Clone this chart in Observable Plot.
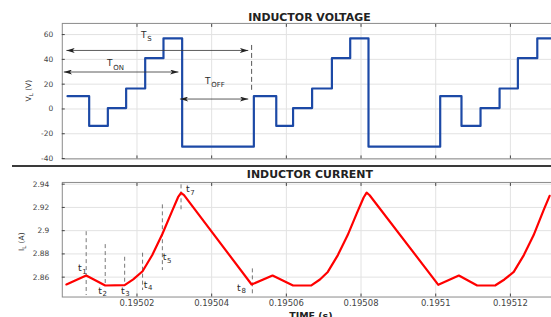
<!DOCTYPE html>
<html><head><meta charset="utf-8">
<script src="https://cdn.jsdelivr.net/npm/d3@7"></script>
<script src="https://cdn.jsdelivr.net/npm/@observablehq/plot@0.6"></script>
<style>
body{margin:0;background:#fff;}
#wrap{width:551px;height:317px;overflow:hidden;position:relative;background:#fff;}
#sep{height:2px;background:#3a3a3a;margin-left:12px;width:545px;}
svg{display:block;}
</style></head><body><div id="wrap"></div>
<script>
const titles = ["INDUCTOR VOLTAGE", "INDUCTOR CURRENT"];
const xLabel = "TIME (s)";
const xTicks = [0.19502, 0.19504, 0.19506, 0.19508, 0.1951, 0.19512];
const xTickLabels = ["0.19502", "0.19504", "0.19506", "0.19508", "0.1951", "0.19512"];
const xDomain = [0.195, 0.195131];
const vTicks = [-40, -20, 0, 20, 40, 60];
const vTickLabels = ["-40", "-20", "0", "20", "40", "60"];
const vDomain = [-40.3, 69];
const iTicks = [2.86, 2.88, 2.9, 2.92, 2.94];
const iTickLabels = ["2.86", "2.88", "2.9", "2.92", "2.94"];
const iDomain = [2.8429, 2.9415];

// inductor voltage (step waveform)
const vTime = [0.1950014, 0.1950072, 0.1950122, 0.1950171, 0.1950222, 0.1950271, 0.1950321,
               0.1950513, 0.1950573, 0.1950618, 0.1950669, 0.1950722, 0.1950771, 0.1950820,
               0.1951012, 0.1951069, 0.1951120, 0.1951171, 0.1951220, 0.1951272, 0.1951320];
const vValue = [10.3, -13.7, 0.7, 16.5, 41, 57, -30.4,
                10.3, -13.7, 0.7, 16.5, 41, 57, -30.4,
                10.3, -13.7, 0.7, 16.5, 41, 57, 57];

// inductor current
const iTime = [0.1950011, 0.1950064, 0.1950115, 0.1950167, 0.1950190, 0.1950215, 0.1950241, 0.1950268,
               0.1950294, 0.1950310, 0.1950318, 0.1950326, 0.1950507,
               0.1950563, 0.1950618, 0.1950667, 0.1950690, 0.1950711, 0.1950738, 0.1950764,
               0.1950790, 0.1950807, 0.1950815, 0.1950823, 0.1951007,
               0.1951062, 0.1951111, 0.1951160, 0.1951184, 0.1951209, 0.1951236, 0.1951262,
               0.1951290, 0.1951305];
const iValue = [2.8537, 2.8614, 2.8528, 2.8532, 2.8581, 2.8651, 2.8791, 2.8971,
                2.9168, 2.9288, 2.9325, 2.9306, 2.8537,
                2.8614, 2.8528, 2.8530, 2.8580, 2.8645, 2.8790, 2.8960,
                2.9160, 2.9285, 2.9327, 2.9305, 2.8534,
                2.8614, 2.8528, 2.8530, 2.8580, 2.8645, 2.8790, 2.8960,
                2.9186, 2.9300];

// annotations, top panel
const arrowX1 = [0.1950011, 0.1950004, 0.1950315];
const arrowX2 = [0.1950498, 0.1950311, 0.1950498];
const arrowV = [47.2, 29.8, 8];
const periodSubs = ["S", "ON", "OFF"];
const periodLabelT = [0.1950211, 0.1950120, 0.1950382];
const periodLabelV = [59.6, 36.6, 22.6];
const tsMarkT = [0.1950507];
const tsMarkV1 = [51.2];
const tsMarkV2 = [13.5];

// annotations, bottom panel
const instSubs = ["1", "2", "3", "4", "5", "7", "8"];
const instT = [0.1950064, 0.1950115, 0.1950167, 0.1950215, 0.1950268, 0.1950318, 0.1950509];
const instI1 = [2.8991, 2.8880, 2.8771, 2.8806, 2.9222, 2.9394, 2.8671];
const instI2 = [2.8442, 2.8528, 2.8534, 2.8485, 2.8657, 2.9177, 2.8451];
const instLabelT = [0.1950042, 0.1950096, 0.1950157, 0.1950218, 0.1950269, 0.1950331, 0.1950468];
const instLabelI = [2.8680, 2.8483, 2.8483, 2.8536, 2.8771, 2.9357, 2.8511];

const FONT = "DejaVu Sans, Liberation Sans, sans-serif";
const vPts = vTime.map((t, i) => ({t, v: vValue[i]}));
const iPts = iTime.map((t, i) => ({t, v: iValue[i]}));
const arrows = arrowX1.map((x1, i) => ({x1, x2: arrowX2[i], y: arrowV[i]}));
const periodLabels = periodSubs.map((s, i) => ({sub: s, t: periodLabelT[i], v: periodLabelV[i]}));
const tsMark = tsMarkT.map((t, i) => ({t, y1: tsMarkV1[i], y2: tsMarkV2[i]}));
const instMarks = instT.map((t, i) => ({t, y1: instI1[i], y2: instI2[i]}));
const instLabels = instSubs.map((s, i) => ({sub: s, t: instLabelT[i], v: instLabelI[i]}));

const gridColor = "#e2e2e2";
const frameColor = "#8a8a8a";
const txt = "#2a2a2a";

function fmt(ticks, labels) { return d => labels[ticks.indexOf(d)]; }

const topChart = Plot.plot({
  width: 553, height: 166,
  marginTop: 23, marginBottom: 7, marginLeft: 62, marginRight: 0,
  style: {fontFamily: FONT, fontSize: "8px", color: txt, background: "white", overflow: "visible"},
  x: {domain: xDomain},
  y: {domain: vDomain},
  marks: [
    Plot.gridX(xTicks, {stroke: gridColor, strokeOpacity: 1}),
    Plot.gridY(vTicks, {stroke: gridColor, strokeOpacity: 1}),
    Plot.frame({stroke: frameColor}),
    Plot.axisY(vTicks, {anchor: "left", tickSize: -3, tickPadding: 12, tickFormat: fmt(vTicks, vTickLabels), fontSize: 7.5, color: "#444", label: null}),
    Plot.axisX(xTicks, {anchor: "bottom", tickSize: -3, tickFormat: () => "", color: "#444", label: null}),
    Plot.axisX(xTicks, {anchor: "top", tickSize: -3, tickFormat: () => "", color: "#444", label: null}),
    Plot.line(vPts, {x: "t", y: "v", curve: "step-after", stroke: "#1c49a6", strokeWidth: 2.2, clip: true}),
    Plot.link(arrows, {x1: "x1", x2: "x2", y1: "y", y2: "y", stroke: "#333", strokeWidth: 0.8}),
    Plot.ruleX(tsMark, {x: "t", y1: "y1", y2: "y2", stroke: "#444", strokeWidth: 0.9, strokeDasharray: "5,3"}),
    Plot.text(periodLabels, {x: "t", y: "v", text: () => "T", textAnchor: "start", lineAnchor: "middle", fontSize: 9, fill: txt}),
    Plot.text(periodLabels, {x: "t", y: "v", text: "sub", textAnchor: "start", lineAnchor: "middle", dx: 6.3, dy: 4, fontSize: 7, fill: txt}),
    Plot.text([titles[0]], {frameAnchor: "top", lineAnchor: "middle", dy: -6, dx: 2.5, fontWeight: "bold", fontSize: 11, fill: "#222"})
  ]
});

const bottomChart = Plot.plot({
  width: 553, height: 149,
  marginTop: 15, marginBottom: 19, marginLeft: 62, marginRight: 0,
  style: {fontFamily: FONT, fontSize: "8px", color: txt, background: "white", overflow: "visible"},
  x: {domain: xDomain},
  y: {domain: iDomain},
  marks: [
    Plot.gridX(xTicks, {stroke: gridColor, strokeOpacity: 1}),
    Plot.gridY(iTicks, {stroke: gridColor, strokeOpacity: 1}),
    Plot.frame({stroke: frameColor}),
    Plot.axisY(iTicks, {anchor: "left", tickSize: -3, tickPadding: 16, tickFormat: fmt(iTicks, iTickLabels), fontSize: 7.5, color: "#444", label: null}),
    Plot.axisX(xTicks, {anchor: "bottom", tickSize: -3, tickPadding: 6, tickFormat: fmt(xTicks, xTickLabels), fontSize: 8.5, color: "#444", label: null}),
    Plot.axisX(xTicks, {anchor: "top", tickSize: -3, tickFormat: () => "", color: "#444", label: null}),
    Plot.ruleX(instMarks, {x: "t", y1: "y1", y2: "y2", stroke: "#555", strokeWidth: 0.8, strokeDasharray: "4,3"}),
    Plot.line(iPts, {x: "t", y: "v", stroke: "#ff0000", strokeWidth: 2.2, strokeLinejoin: "round", clip: true}),
    Plot.text(instLabels, {x: "t", y: "v", text: () => "t", textAnchor: "start", lineAnchor: "middle", fontSize: 9.5, fill: txt}),
    Plot.text(instLabels, {x: "t", y: "v", text: "sub", textAnchor: "start", lineAnchor: "middle", dx: 4.4, dy: 3.5, fontSize: 7, fill: txt}),
    Plot.text([titles[1]], {frameAnchor: "top", lineAnchor: "middle", dy: -8, dx: 3, fontWeight: "bold", fontSize: 11, fill: "#222"}),
    Plot.text([xLabel], {frameAnchor: "bottom", lineAnchor: "top", dy: 15, dx: 4, fontWeight: "bold", fontSize: 9.5, fill: "#222"})
  ]
});

// arrowheads for dimension arrows
const defs = d3.select(topChart).append("defs");
defs.append("marker").attr("id", "ah").attr("viewBox", "0 0 10 6").attr("refX", 10).attr("refY", 3)
  .attr("markerWidth", 9).attr("markerHeight", 5).attr("markerUnits", "userSpaceOnUse")
  .attr("orient", "auto-start-reverse")
  .append("path").attr("d", "M0,0L10,3L0,6L2.5,3Z").attr("fill", "#222");
d3.select(topChart).selectAll('g[aria-label="link"] path')
  .attr("marker-start", "url(#ah)").attr("marker-end", "url(#ah)");

function yTitle(svg, x, y, main, sub, rest) {
  const t = d3.select(svg).append("text")
    .attr("transform", `translate(${x},${y}) rotate(-90)`)
    .attr("text-anchor", "middle").attr("font-family", FONT).attr("font-size", 7.5).attr("fill", txt);
  t.append("tspan").text(main);
  t.append("tspan").attr("font-size", 5.5).attr("dy", 2.5).text(sub);
  t.append("tspan").attr("dy", -2.5).text(rest);
}
yTitle(topChart, 31, 91, "V", "L", " (V)");
yTitle(bottomChart, 24, 75, "I", "L", " (A)");

const wrap = document.getElementById("wrap");
wrap.appendChild(topChart);
const sep = document.createElement("div"); sep.id = "sep";
wrap.appendChild(sep);
wrap.appendChild(bottomChart);
</script></body></html>
